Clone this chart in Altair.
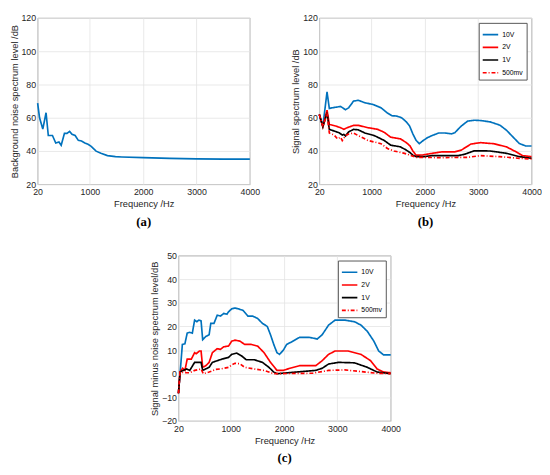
import altair as alt
import pandas as pd

FREQ_TICKS = [20, 1000, 2000, 3000, 4000]
SERIES = ["10V", "2V", "1V", "500mv"]
COLORS = ["#0072BD", "#FF0000", "#000000", "#FF0000"]
DASHES = [[1, 0], [1, 0], [1, 0], [4, 2, 1, 2]]

# (a) background noise
A_HZ = [20, 56, 117, 178, 220, 298, 360, 420, 462, 523, 570, 620, 665, 723, 783, 843, 905, 965,
        1025, 1116, 1207, 1329, 1480, 1600, 2000, 2500, 3000, 3500, 4000]
A_DB = [68.8, 60, 53.2, 63, 49.3, 49.3, 44.8, 45.4, 43.4, 50.6, 50.6, 51.8, 50.1, 49.3, 46.4, 46, 44.8, 44,
        42.8, 39.9, 38.6, 37.2, 36.6, 36.4, 36.0, 35.6, 35.3, 35.1, 35.1]

# (b) signal spectrum level
B10_HZ = [20, 87, 165, 208, 268, 420, 511, 571, 662, 753, 874, 1026, 1177, 1290, 1381, 1472, 1563, 1653,
          1714, 1774, 1835, 1895, 1956, 2047, 2137, 2258, 2379, 2500, 2561, 2682, 2803, 2924, 3045, 3226,
          3408, 3529, 3650, 3771, 3892, 4000]
B10_DB = [62, 55, 75.5, 65.6, 66, 66.8, 64.8, 66, 70, 70.5, 69, 68, 66, 63, 61.2, 61, 60, 57.5,
          55, 50.3, 46.4, 44.4, 46, 48, 49.3, 50.8, 50.8, 50.3, 51, 55, 58, 58.5, 58.3, 57.5,
          55.5, 52.5, 48.5, 44.5, 43, 43]
B2_HZ = [20, 87, 165, 208, 330, 420, 481, 541, 662, 753, 935, 1117, 1238, 1359, 1541, 1653, 1723, 1774,
         1835, 1956, 2137, 2319, 2561, 2682, 2864, 3045, 3287, 3529, 3710, 3831, 4000]
B2_DB = [62, 54.6, 64.6, 56, 55, 54, 53, 54, 55.4, 55.4, 54, 53, 51.2, 48.3, 47.3, 45, 43, 40,
         37.5, 37.6, 38.6, 39.5, 39.5, 40.5, 44.2, 45, 44.4, 42.5, 39.5, 37.2, 36.6]
B1_HZ = [20, 87, 165, 208, 299, 390, 451, 481, 511, 571, 662, 753, 874, 1056, 1238, 1359, 1541, 1653,
         1723, 1774, 1835, 1986, 2137, 2621, 2742, 2924, 3226, 3529, 3771, 4000]
B1_DB = [62, 54.6, 63, 53, 52, 51, 49.6, 50, 49, 51.5, 53, 52.7, 50.8, 49.2, 46.3, 43.5, 42.5, 40.5,
         39, 37.5, 36.6, 36.6, 37.2, 37.2, 38, 40.1, 40, 38.6, 36.6, 35.6]
B05_HZ = [20, 87, 165, 208, 299, 360, 420, 451, 511, 571, 662, 753, 935, 1177, 1298, 1420, 1602, 1714,
          1835, 2319, 2803, 3045, 3400, 3771, 4000]
B05_DB = [62, 54.6, 62.7, 50.8, 49.6, 47.3, 48.3, 46.3, 49.2, 50.2, 50.8, 49.2, 46.3, 44.4, 41.5, 40, 38.7, 37.6,
          36.2, 36, 36.2, 37.2, 36.6, 35.6, 35.2]

# (c) signal minus noise
C10_HZ = [20, 50, 93, 141, 184, 232, 280, 323, 365, 402, 444, 474, 535, 595, 626, 686, 747, 807, 868, 928,
          959, 1019, 1080, 1141, 1231, 1322, 1413, 1504, 1595, 1686, 1746, 1807, 1867, 1916, 1988, 2049,
          2170, 2291, 2473, 2624, 2715, 2836, 2958, 3139, 3321, 3442, 3563, 3684, 3775, 3866, 4000]
C10_DB = [-8.3, 0, 12.4, 12.7, 17.2, 17.5, 17.2, 22.7, 22, 22.7, 22.4, 14.4, 15.8, 16.5, 21.3, 21.3, 24.8, 24.4,
          25.5, 25.2, 26.2, 27.5, 27.8, 27.5, 26.8, 24.4, 24.4, 23.4, 21.3, 20, 16.5, 12.4, 8.9, 8.2, 10, 12.4,
          13.8, 15.4, 15.4, 14.7, 16.5, 20.6, 22.7, 22.7, 22, 20.6, 17.9, 13.8, 9.6, 8, 8]
C2_HZ = [20, 50, 99, 141, 184, 262, 323, 353, 414, 444, 474, 535, 595, 656, 747, 807, 868, 959, 1019, 1080,
         1171, 1262, 1383, 1504, 1625, 1746, 1867, 1988, 2110, 2291, 2594, 2715, 2836, 2958, 3200, 3442,
         3624, 3745, 3866, 4000]
C2_DB = [-8.3, 0.7, 2.3, 1.4, 6.2, 6.2, 8.9, 8.5, 9.6, 9.6, 2.7, 3.4, 4.8, 8.9, 10.6, 10.3, 11.4, 11.7, 13.8, 14.2,
         13.8, 12.4, 12.4, 11.7, 8.9, 4.8, 1.4, 1.4, 2.3, 3.4, 3.4, 5.5, 8.2, 9.6, 9.6, 8.2,
         5.5, 2, 0.7, 0.4]
C1_HZ = [20, 50, 111, 171, 232, 323, 444, 474, 595, 656, 747, 838, 959, 1019, 1110, 1201, 1292, 1443, 1595,
         1716, 1807, 1867, 2231, 2594, 2715, 2836, 3018, 3321, 3563, 3745, 4000]
C1_DB = [-8.3, 0.7, 1.4, 2, 1.4, 4.8, 4.8, 1.4, 2.7, 4.8, 5.5, 6.2, 6.9, 8.2, 8.7, 7.6, 5.9, 5.9, 4.8,
         2.7, 0.7, 0, 0.7, 1.4, 2.3, 4.1, 4.8, 4.6, 2.7, 0.7, 0]
C05_HZ = [20, 50, 141, 232, 323, 444, 486, 595, 717, 807, 959, 1019, 1080, 1171, 1262, 1443, 1625, 1807,
          2534, 2836, 3139, 3442, 3745, 4000]
C05_DB = [-8.3, 0.7, 0.4, 0.4, 1.4, 2, 0, 0.7, 1.8, 2, 2.7, 3.7, 4.4, 4.2, 2.7, 2, 1.4, 0,
          0.2, 1.4, 1.6, 0.9, 0.2, 0]


def frame(pairs):
    parts = []
    for name, hz, db in pairs:
        parts.append(pd.DataFrame({"f": hz, "v": db, "s": name}))
    return pd.concat(parts, ignore_index=True)


df_a = frame([("noise", A_HZ, A_DB)])
df_b = frame([("10V", B10_HZ, B10_DB), ("2V", B2_HZ, B2_DB), ("1V", B1_HZ, B1_DB), ("500mv", B05_HZ, B05_DB)])
df_c = frame([("10V", C10_HZ, C10_DB), ("2V", C2_HZ, C2_DB), ("1V", C1_HZ, C1_DB), ("500mv", C05_HZ, C05_DB)])

W, H, HC = 217, 170, 169


def xenc():
    return alt.X("f:Q", scale=alt.Scale(domain=[20, 4000], nice=False, zero=False),
                 axis=alt.Axis(values=FREQ_TICKS, title="Frequency /Hz", format="d", labelPadding=4))


def yenc(title, dom, ticks):
    return alt.Y("v:Q", scale=alt.Scale(domain=dom, nice=False, zero=False),
                 axis=alt.Axis(values=ticks, title=title, format="d"))


def ptitle(t):
    return alt.TitleParams(t, orient="bottom", font="Liberation Serif", fontWeight="bold",
                           fontSize=13, offset=8, color="#000000")


def legend():
    return alt.Legend(title=None, orient="top-right", offset=5, fillColor="white",
                      strokeColor="#555555", padding=3, labelFontSize=7, labelFont="Liberation Sans",
                      symbolType="stroke", symbolSize=250, symbolStrokeWidth=1.7, rowPadding=0,
                      labelOffset=3, labelColor="#000000")


def multi(df, ytitle, dom, ticks, label, h):
    color = alt.Color("s:N", scale=alt.Scale(domain=SERIES, range=COLORS), legend=legend(), sort=SERIES)
    dash = alt.StrokeDash("s:N", scale=alt.Scale(domain=SERIES, range=DASHES), legend=legend(), sort=SERIES)
    return alt.Chart(df, title=ptitle(label)).mark_line(strokeWidth=1.7).encode(
        x=xenc(), y=yenc(ytitle, dom, ticks), color=color, strokeDash=dash,
        order=alt.Order("f:Q")
    ).properties(width=W, height=h)


pa = alt.Chart(df_a, title=ptitle("(a)")).mark_line(strokeWidth=1.7, color="#0072BD").encode(
    x=xenc(), y=yenc("Background noise spectrum level /dB", [20, 120], [20, 40, 60, 80, 100, 120])
).properties(width=W, height=H)

pb = multi(df_b, "Signal spectrum level /dB", [20, 120], [20, 40, 60, 80, 100, 120], "(b)", H)
pc = multi(df_c, "Signal minus noise spectrum level/dB", [-20, 50], [-20, -10, 0, 10, 20, 30, 40, 50], "(c)", HC)

top = alt.hconcat(pa, pb, spacing=30).resolve_legend(
    color="independent", strokeDash="independent"
).resolve_scale(color="independent", strokeDash="independent")
chart = alt.vconcat(top, pc, spacing=22, center=True).resolve_legend(
    color="independent", strokeDash="independent"
).resolve_scale(color="independent", strokeDash="independent").properties(padding=0).configure_axis(
    labelFont="Liberation Sans", labelFontSize=9, labelColor="#262626",
    titleFont="Liberation Sans", titleFontSize=9.5, titleFontWeight="normal", titleColor="#262626",
    gridColor="#e3e3e3", gridWidth=0.8, domain=False, ticks=False, labelFlush=False,
    labelPadding=2, titlePadding=2
).configure_view(stroke="#8a8a8a", strokeWidth=0.8).configure_legend(
    strokeColor="#555555"
)

chart.save("out.html", embed_options={"renderer": "svg", "actions": False})
